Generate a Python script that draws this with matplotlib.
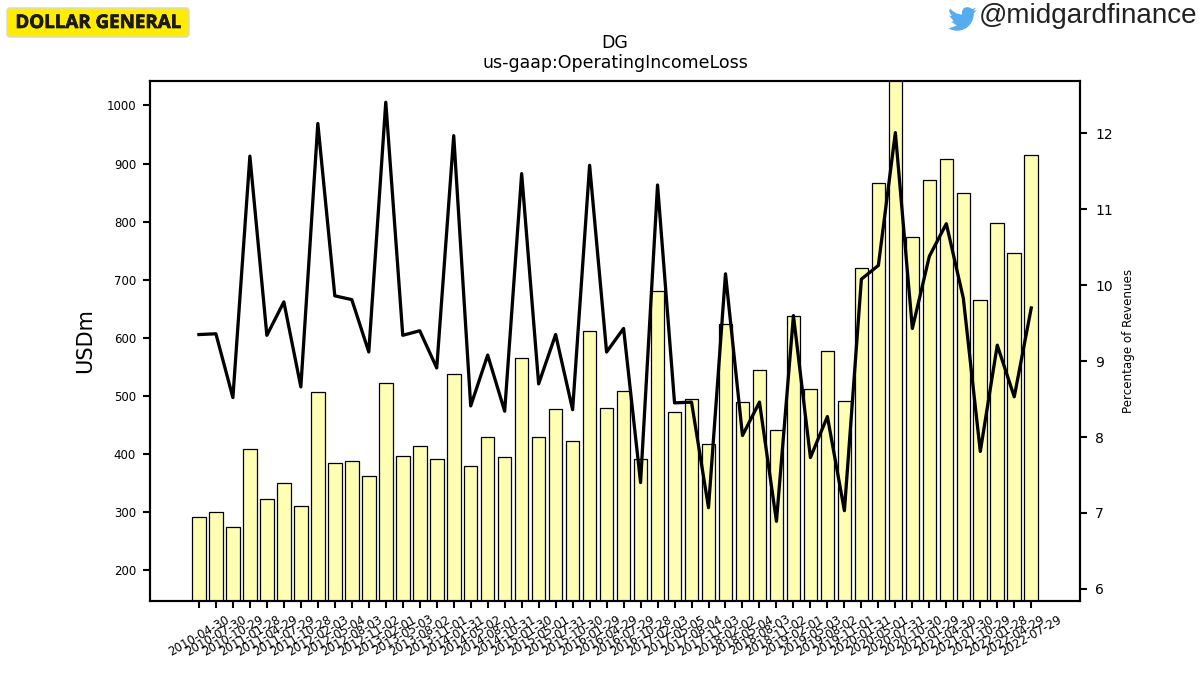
import matplotlib
matplotlib.use("Agg")
import matplotlib.pyplot as plt
import matplotlib.patheffects as pe
from matplotlib.patches import FancyBboxPatch, PathPatch
from matplotlib.path import Path

dates = ["2010-04-30", "2010-07-30", "2010-10-29", "2011-01-28", "2011-04-29", "2011-07-29", "2011-10-28",
         "2012-02-03", "2012-05-04", "2012-08-03", "2012-11-02", "2013-02-01", "2013-05-03", "2013-08-02",
         "2013-11-01", "2014-01-31", "2014-05-02", "2014-08-01", "2014-10-31", "2015-01-30", "2015-05-01",
         "2015-07-31", "2015-10-30", "2016-01-29", "2016-04-29", "2016-07-29", "2016-10-28", "2017-02-03",
         "2017-05-05", "2017-08-04", "2017-11-03", "2018-02-02", "2018-05-04", "2018-08-03", "2018-11-02",
         "2019-02-01", "2019-05-03", "2019-08-02", "2019-11-01", "2020-01-31", "2020-05-01", "2020-07-31",
         "2020-10-30", "2021-01-29", "2021-04-30", "2021-07-30", "2021-10-29", "2022-01-28", "2022-04-29",
         "2022-07-29"]
operating_income = [291, 301, 274, 408, 322, 350, 311, 507, 384, 388,
                    362, 523, 396, 413, 391, 538, 380, 429, 394, 566,
                    429, 477, 423, 612, 480, 509, 392, 680, 473, 494,
                    418, 623, 490, 545, 442, 638, 512, 578, 492, 721,
                    867, 1060, 773, 872, 908, 849, 665, 797, 746, 914]
margin_pct = [9.35, 9.36, 8.52, 11.70, 9.34, 9.78, 8.66, 12.13, 9.86, 9.81,
              9.12, 12.41, 9.34, 9.40, 8.91, 11.97, 8.41, 9.08, 8.34, 11.47,
              8.70, 9.35, 8.36, 11.58, 9.12, 9.43, 7.40, 11.32, 8.45, 8.46,
              7.07, 10.15, 8.02, 8.46, 6.89, 9.60, 7.73, 8.27, 7.03, 10.08,
              10.26, 12.01, 9.43, 10.38, 10.81, 9.83, 7.81, 9.21, 8.53, 9.70]

fig = plt.figure(figsize=(12, 6.75), dpi=100)
ax = fig.add_axes([150 / 1200, 1 - 601 / 675, 930 / 1200, 520 / 675])

x = list(range(len(dates)))
ax.bar(x, operating_income, width=0.8, color="#ffffb3", edgecolor="black", linewidth=0.9)
ax.set_xlim(-2.88, 51.87)
ax.set_ylim(147, 1042)
ax.set_xticks(x)
ax.set_xticklabels(dates, rotation=30, ha="center", fontsize=8.5)
ax.set_ylabel("USDm", fontsize=15, labelpad=8.5)
ax.tick_params(axis="y", labelsize=8.5, length=5, width=1.5, pad=5)
ax.tick_params(axis="x", length=5, width=1.5)
ax.set_title("DG\nus-gaap:OperatingIncomeLoss", fontsize=12.5, pad=9)

ax2 = ax.twinx()
ax2.plot(x, margin_pct, color="black", linewidth=2.35)
ax2.set_ylim(5.84, 12.69)
ax2.set_ylabel("Percentage of Revenues", fontsize=8.6, labelpad=6.5)
ax2.tick_params(axis="y", labelsize=10, length=5, width=1.5, pad=6)

for a in (ax, ax2):
    for spine in a.spines.values():
        spine.set_linewidth(1.5)

# Overlay in pixel coordinates for the brand badge and the social handle
overlay = fig.add_axes([0, 0, 1, 1], facecolor="none")
overlay.set_xlim(0, 1200)
overlay.set_ylim(675, 0)
overlay.axis("off")

overlay.add_patch(FancyBboxPatch((7, 8), 182, 29, boxstyle="round,pad=0,rounding_size=3",
                                 facecolor="#ffec00", edgecolor="#d8d8d0", linewidth=1))
overlay.text(98, 23, "DOLLAR GENERAL", fontsize=13.5, fontweight="bold", family="Open Sans",
             color="#1a1a1a", ha="center", va="center",
             path_effects=[pe.withStroke(linewidth=0.5, foreground="#1a1a1a")])

# Twitter bird, outlined on a 24-unit grid and scaled into place
bird_grid = [
    (Path.MOVETO, (23.95, 4.57)),
    (Path.LINETO, (21.13, 5.35)),
    (Path.LINETO, (23.29, 2.62)),
    (Path.LINETO, (20.16, 3.81)),
    (Path.CURVE4, (18.6, 2.1)), (Path.CURVE4, (15.4, 1.4)), (Path.CURVE4, (13.2, 3.1)),
    (Path.CURVE4, (11.8, 4.2)), (Path.CURVE4, (11.4, 6.3)), (Path.CURVE4, (11.78, 8.29)),
    (Path.CURVE4, (7.69, 8.1)), (Path.CURVE4, (4.07, 6.13)), (Path.CURVE4, (1.64, 3.16)),
    (Path.LINETO, (0.97, 5.64)),
    (Path.LINETO, (3.16, 9.73)),
    (Path.LINETO, (0.93, 9.12)),
    (Path.LINETO, (4.88, 14.0)),
    (Path.LINETO, (2.67, 14.09)),
    (Path.LINETO, (7.27, 17.5)),
    (Path.LINETO, (1.17, 19.6)),
    (Path.LINETO, (0.0, 19.54)),
    (Path.CURVE4, (2.3, 21.0)), (Path.CURVE4, (4.9, 21.75)), (Path.CURVE4, (7.56, 21.75)),
    (Path.CURVE4, (16.6, 21.75)), (Path.CURVE4, (21.55, 14.25)), (Path.CURVE4, (21.54, 7.13)),
    (Path.LINETO, (24.0, 4.59)),
    (Path.CLOSEPOLY, (23.95, 4.57)),
]
bird_codes = [code for code, _ in bird_grid]
bird_points = [(948 + 1.2 * px, 4.6 + 1.2 * py) for _, (px, py) in bird_grid]
overlay.add_patch(PathPatch(Path(bird_points, bird_codes), facecolor="#55acee", edgecolor="none"))
overlay.text(979, 16, "@midgardfinance", fontsize=20.1, family="Liberation Sans",
             color="#222222", ha="left", va="center")

fig.savefig("out.png", dpi=100)
